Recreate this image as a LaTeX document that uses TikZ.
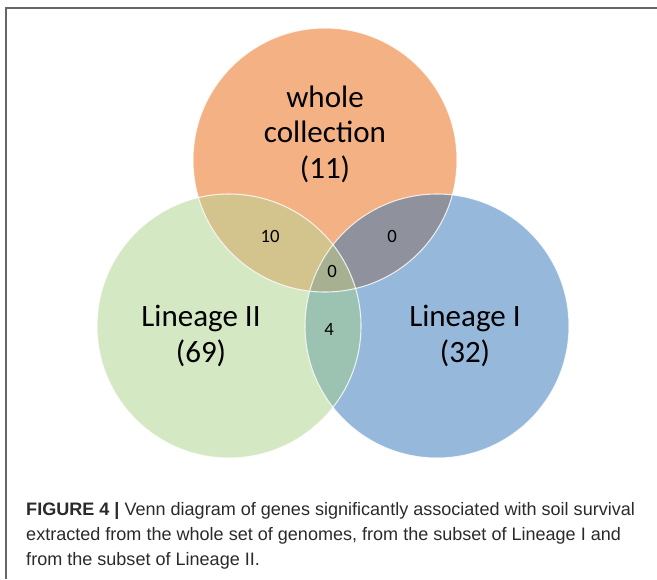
\documentclass[tikz,border=0pt]{standalone}
\usepackage{fontspec}
\setmainfont{Liberation Sans}
\newfontfamily\vennfont{Carlito}
\newfontfamily\capfont{Liberation Sans}
\definecolor{wholecol}{HTML}{F4B183}
\definecolor{lintwocol}{HTML}{D5E8C4}
\definecolor{linonecol}{HTML}{96B9DB}
\definecolor{wtcol}{HTML}{D3C38D}
\definecolor{wocol}{HTML}{8F919C}
\definecolor{tocol}{HTML}{9CC3B2}
\definecolor{allcol}{HTML}{A7B192}
\definecolor{framecol}{HTML}{666666}
\definecolor{captcol}{HTML}{2A2A2A}

\begin{document}
\begin{tikzpicture}[x=0.03cm, y=-0.03cm,
    biglabel/.style = {font=\vennfont\fontsize{26.5}{30.3}\selectfont, align=center, inner sep=0pt},
    numlabel/.style = {font=\vennfont\fontsize{16}{18}\selectfont, inner sep=0pt},
    rim/.style = {white, line width=0.9pt, opacity=0.8}]
    \useasboundingbox (0,0) rectangle (657,579);
    \pgfmathsetmacro{\R}{132}  % circle radius, units of pixels
    \coordinate (whole) at (325,160);
    \coordinate (lintwo) at (229,326);
    \coordinate (linone) at (437,326);
    % frame
    \coordinate (fa) at (657,8);
    \coordinate (fb) at (6,8);
    \coordinate (fc) at (6,579);
    \draw[framecol, line width=1pt] (fa) -- (fb) -- (fc);
    % single sets
    \fill[lintwocol] (lintwo) circle (\R);
    \fill[linonecol] (linone) circle (\R);
    \fill[wholecol] (whole) circle (\R);
    % pairwise overlaps
    \begin{scope}
        \clip (whole) circle (\R);
        \fill[wtcol] (lintwo) circle (\R);
        \fill[wocol] (linone) circle (\R);
    \end{scope}
    \begin{scope}
        \clip (lintwo) circle (\R);
        \fill[tocol] (linone) circle (\R);
        \clip (linone) circle (\R);
        \fill[allcol] (whole) circle (\R);
    \end{scope}
    \draw[rim] (linone) circle (\R);
    \draw[rim] (lintwo) circle (\R);
    \draw[rim] (whole) circle (\R);
    % labels
    \node[biglabel] (wholetxt) at (325,134) {whole\\collection\\(11)};
    \node[biglabel] (lintwotxt) at (201,336) {Lineage II\\(69)};
    \node[biglabel] (linonetxt) at (465,336) {Lineage I\\(32)};
    \node[numlabel] (nwt) at (270,236) {10};
    \node[numlabel] (nwo) at (392,236) {0};
    \node[numlabel] (nall) at (332,271) {0};
    \node[numlabel] (nto) at (329,329) {4};
    % caption
    \node[anchor=north west, align=left, inner sep=0pt, text=captcol,
          font=\capfont\fontsize{15.4}{21.3}\selectfont] (caption) at (26,502)
        {\textbf{FIGURE 4 |} Venn diagram of genes significantly associated with soil survival\\
         extracted from the whole set of genomes, from the subset of Lineage I and\\
         from the subset of Lineage II.};
\end{tikzpicture}
\end{document}
